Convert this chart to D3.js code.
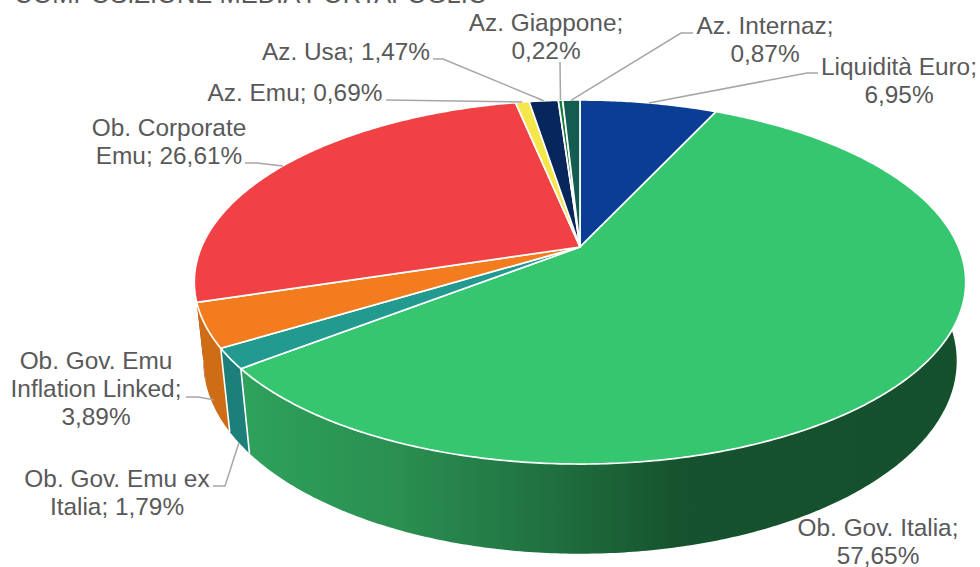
<!DOCTYPE html>
<html><head><meta charset="utf-8">
<script src="https://cdn.jsdelivr.net/npm/d3@7"></script>
<style>html,body{margin:0;padding:0;background:#fff}svg{display:block}text{font-family:"Liberation Sans",Arial,sans-serif;fill:#595959}</style>
</head><body><svg id="c" width="980" height="567"></svg>
<script>
const categories = ["Liquidità Euro","Ob. Gov. Italia","Ob. Gov. Emu ex Italia","Ob. Gov. Emu Inflation Linked","Ob. Corporate Emu","Az. Emu","Az. Usa","Az. Giappone","Az. Internaz"];
const values = [6.95,57.65,1.79,3.89,26.61,0.69,1.47,0.22,0.87];
const valueLabels = ["6,95%","57,65%","1,79%","3,89%","26,61%","0,69%","1,47%","0,22%","0,87%"];
const labelLines = [["Liquidità Euro;","6,95%"],["Ob. Gov. Italia;","57,65%"],["Ob. Gov. Emu ex","Italia; 1,79%"],["Ob. Gov. Emu","Inflation Linked;","3,89%"],["Ob. Corporate","Emu; 26,61%"],["Az. Emu; 0,69%"],["Az. Usa; 1,47%"],["Az. Giappone;","0,22%"],["Az. Internaz;","0,87%"]];
const topColors = ["#0a3d94","#36c670","#229a8f","#f37d1e","#f24145","#f5e64c","#06265c","#1a7a40","#125c50"];
const wallColors = ["#072c6a","url(#gGreen)","#1c7f79","#cf6c16","#ac2e31","#b0a436","#041b42","#12572d","#0d4239"];
const title = "COMPOSIZIONE MEDIA PORTAFOGLIO";

// layout (label anchor, first baseline) and leader elbows, in page pixels
const labelPos = [[899,75],[878,536],[117,487],[96,369],[169,136],[295,101],[346,60],[546,31],[765,34]];
const leaderElbow = [[[818,73],[807,73]],null,[[213,486],[225,486]],[[186,397],[198,397]],[[245,163],[257,163]],[[386,100]],[[433,59],[443,59]],[[560,62]],[[693,33],[681,33]]];
const leaderDepth = [0,0,1,0.9,0,0,0,0,0];

const svg = d3.select("#c");
const defs = svg.append("defs");
const g = defs.append("linearGradient").attr("id","gGreen").attr("gradientUnits","userSpaceOnUse")
  .attr("x1",240).attr("x2",980).attr("y1",0).attr("y2",0);
[[0,"#2ea25c"],[0.216,"#2a8f51"],[0.43,"#1f6e3f"],[0.595,"#16522d"],[1,"#14502c"]].forEach(s=>g.append("stop").attr("offset",s[0]).attr("stop-color",s[1]));

// perspective projection of the pie disc
const ox=580, oy=247, d=378.5, a=175.3, c=0.1923, e=0.023, f=-79.5;
function proj(theta,r,z){
  const x=r*Math.sin(theta), y=r*Math.cos(theta), w=1+c*y+e*z;
  return [ox+d*x/w, oy-(a*y+f*z)/w];
}
const pie = d3.pie().value(v=>v).sort(null).startAngle(0).endAngle(2*Math.PI);
const arcs = pie(values);
const line = d3.line();
const stepsFor = (s,t)=>{const n=Math.max(2,Math.ceil((t-s)/0.01));return d3.range(0,n+1).map(i=>s+(t-s)*i/n);};

const walls = svg.append("g"), tops = svg.append("g");
// painter's order: far walls first, near walls last
const byDepth = d3.range(arcs.length).sort((p,q)=>
  Math.cos((arcs[q].startAngle+arcs[q].endAngle)/2)-Math.cos((arcs[p].startAngle+arcs[p].endAngle)/2));
byDepth.forEach(i=>{
  const k=arcs[i], th = stepsFor(k.startAngle,k.endAngle);
  const wall = th.map(t=>proj(t,1,0)).concat(th.slice().reverse().map(t=>proj(t,1,1)));
  walls.append("path").attr("d",line(wall)+"Z").attr("fill",wallColors[i]);
});
// white dividers on the visible front of the wall
arcs.forEach(k=>{
  if(Math.cos(k.startAngle)<-0.45)
    walls.append("path").attr("d",line([proj(k.startAngle,1,0),proj(k.startAngle,1,1)]))
      .attr("stroke","#fff").attr("stroke-width",1.6).attr("fill","none");
});
arcs.forEach((k,i)=>{
  const th = stepsFor(k.startAngle,k.endAngle);
  const top = [[ox,oy]].concat(th.map(t=>proj(t,1,0)));
  tops.append("path").attr("d",line(top)+"Z").attr("fill",topColors[i])
    .attr("stroke","#fff").attr("stroke-width",1.7).attr("stroke-linejoin","round");
});

// leaders
const leaders = svg.append("g");
arcs.forEach((k,i)=>{
  if(!leaderElbow[i]) return;
  const m=(k.startAngle+k.endAngle)/2;
  leaders.append("path").attr("d",line(leaderElbow[i].concat([proj(m,1,leaderDepth[i])])))
    .attr("fill","none").attr("stroke","#a6a6a6").attr("stroke-width",1.5);
});

// labels
const labels = svg.append("g").attr("font-size",24.4).attr("text-anchor","middle");
labelLines.forEach((ls,i)=>{
  const t=labels.append("text").attr("aria-label",categories[i]+"; "+valueLabels[i]);
  ls.forEach((s,j)=>t.append("tspan").attr("x",labelPos[i][0]).attr("y",labelPos[i][1]+j*28).text(s));
});
svg.append("text").attr("x",14).attr("y",3).attr("font-size",25.5).text(title);
</script></body></html>
